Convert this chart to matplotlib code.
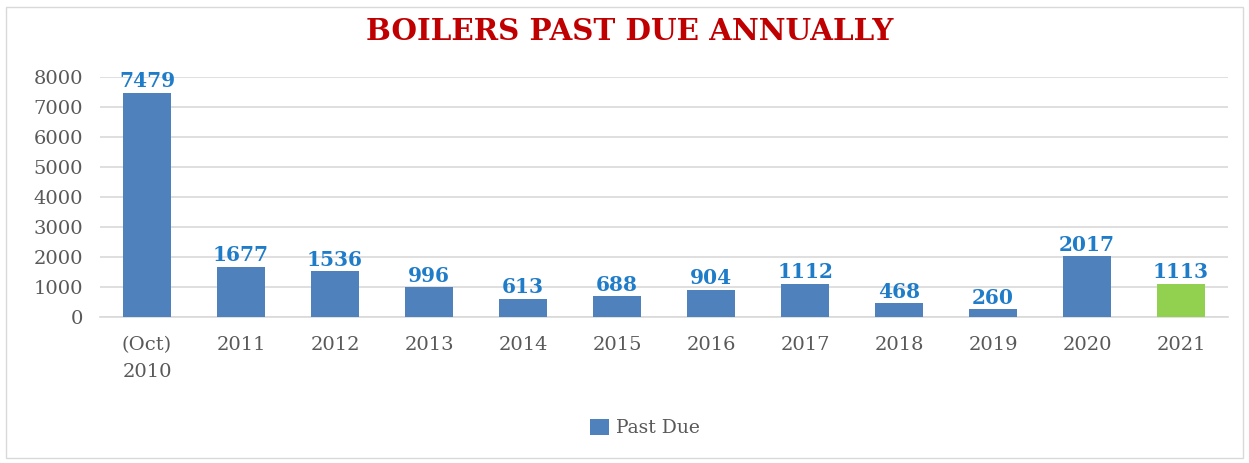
import matplotlib
matplotlib.use("Agg")
import matplotlib.pyplot as plt
from matplotlib.patches import Rectangle, Patch

categories = ["(Oct)\n2010", "2011", "2012", "2013", "2014", "2015", "2016",
              "2017", "2018", "2019", "2020", "2021"]
past_due = [7479, 1677, 1536, 996, 613, 688, 904, 1112, 468, 260, 2017, 1113]
yticks = [0, 1000, 2000, 3000, 4000, 5000, 6000, 7000, 8000]

blue = "#4F81BD"
green = "#92D050"
colors = [blue] * (len(past_due) - 1) + [green]

fig = plt.figure(figsize=(12.49, 4.63), dpi=100)
fig.patches.append(Rectangle((6 / 1249, 1 - 458 / 463), 1237 / 1249, 451 / 463,
                             transform=fig.transFigure, fill=False,
                             edgecolor="#D9D9D9", linewidth=1))
ax = fig.add_axes([100 / 1249, 1 - 317 / 463, 1128 / 1249, 240 / 463])
x = list(range(len(categories)))
bars = ax.bar(x, past_due, width=0.51, color=colors, zorder=3)
ax.set_xlim(-0.5, len(categories) - 0.5)
ax.set_ylim(0, 8000)
ax.set_yticks(yticks)
ax.set_xticks(x)
ax.set_xticklabels(categories)
ax.yaxis.grid(True, color="#D9D9D9", linewidth=1.2, zorder=0)
ax.set_axisbelow(True)
for s in ["top", "right", "left"]:
    ax.spines[s].set_visible(False)
ax.spines["bottom"].set_color("#D9D9D9")
ax.spines["bottom"].set_linewidth(1.2)
ax.tick_params(axis="both", length=0, labelsize=14, labelcolor="#595959")
ax.tick_params(axis="y", pad=12)
ax.tick_params(axis="x", pad=14)
for lab in ax.get_xticklabels() + ax.get_yticklabels():
    lab.set_family("DejaVu Serif")
    lab.set_linespacing(1.6)
ax.patch.set_alpha(0)

for xi, v in zip(x, past_due):
    ax.annotate(str(v), (xi, v), xytext=(0, 1), textcoords="offset points",
                ha="center", va="bottom", fontsize=14.5, fontweight="bold",
                color="#1F7CC8", family="DejaVu Serif")

fig.text(630 / 1249, 1 - 31 / 463, "BOILERS PAST DUE ANNUALLY", ha="center",
         va="center", fontsize=21.2, fontweight="bold", color="#C00000",
         family="DejaVu Serif")

fig.legend(handles=[Patch(facecolor=blue, label="Past Due")],
           loc="center", bbox_to_anchor=(645 / 1249, 1 - 428 / 463),
           frameon=False, prop={"family": "DejaVu Serif", "size": 13.5},
           labelcolor="#595959", handlelength=1.0, handleheight=1.0,
           handletextpad=0.4)

fig.savefig("out.png", dpi=100)
